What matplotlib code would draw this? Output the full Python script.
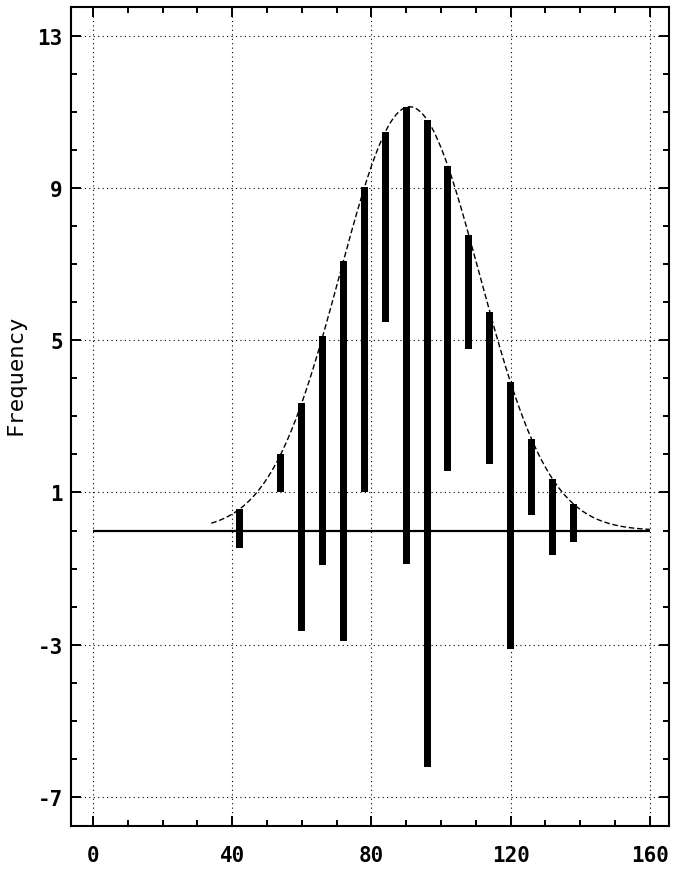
import numpy as np
import matplotlib.pyplot as plt

# observed counts per bin (bin width 6)
bin_centers = [42, 48, 54, 60, 66, 72, 78, 84, 90, 96, 102, 108, 114, 120, 126, 132, 138]
counts = [1, 0, 1, 6, 6, 10, 8, 5, 12, 17, 8, 3, 4, 7, 2, 2, 1]
bin_width = 6

# fitted normal curve
fit_mean = 91
fit_sd = 20
curve_start, curve_end = 34, 160

x_ticks = [0, 40, 80, 120, 160]
y_ticks = [-7, -3, 1, 5, 9, 13]


def normal_freq(x):
    n = sum(counts)
    scale = n * bin_width / (fit_sd * np.sqrt(2 * np.pi))
    return scale * np.exp(-0.5 * ((x - fit_mean) / fit_sd) ** 2)


centers = np.array(bin_centers, dtype=float)
obs = np.array(counts, dtype=float)
expected = normal_freq(centers)
xs = np.linspace(curve_start, curve_end, 400)

plt.rcParams['font.family'] = ['DejaVu Sans Mono']
plt.rcParams['font.weight'] = 'bold'
plt.rcParams['axes.unicode_minus'] = False

fig = plt.figure(figsize=(6.73, 8.79), dpi=100)
ax = fig.add_axes([0.1055, 0.0592, 0.889, 0.9317])

# hanging bars: each bar hangs from the curve down by the observed count
ax.bar(centers, -obs, bottom=expected, width=2.0, color='black', zorder=3)
ax.plot(xs, normal_freq(xs), color='black', lw=1.0, linestyle=(0, (4, 2)), zorder=2)
ax.hlines(0, 0, 160, color='black', lw=1.6, zorder=2)

ax.set_xlim(-6.3, 165.6)
ax.set_ylim(-7.76, 13.75)
ax.set_xticks(x_ticks)
ax.set_yticks(y_ticks)
ax.set_xticks(np.arange(0, 161, 10), minor=True)
ax.set_yticks(np.arange(-7, 14, 1), minor=True)

ax.tick_params(which='both', direction='in', top=True, right=True, width=1.4)
ax.tick_params(which='major', length=7, labelsize=15)
ax.tick_params(which='minor', length=4)
ax.tick_params(axis='x', pad=14)
ax.tick_params(axis='y', pad=6)
ax.grid(which='major', color='black', lw=0.8, linestyle=(0, (1, 3)))
ax.set_axisbelow(True)
for s in ax.spines.values():
    s.set_linewidth(1.5)

fig.text(16 / 673, 1 - 375 / 879, 'Frequency', rotation=90, ha='center', va='center',
         fontsize=16, fontweight='normal')

fig.savefig('out.png', dpi=100)
